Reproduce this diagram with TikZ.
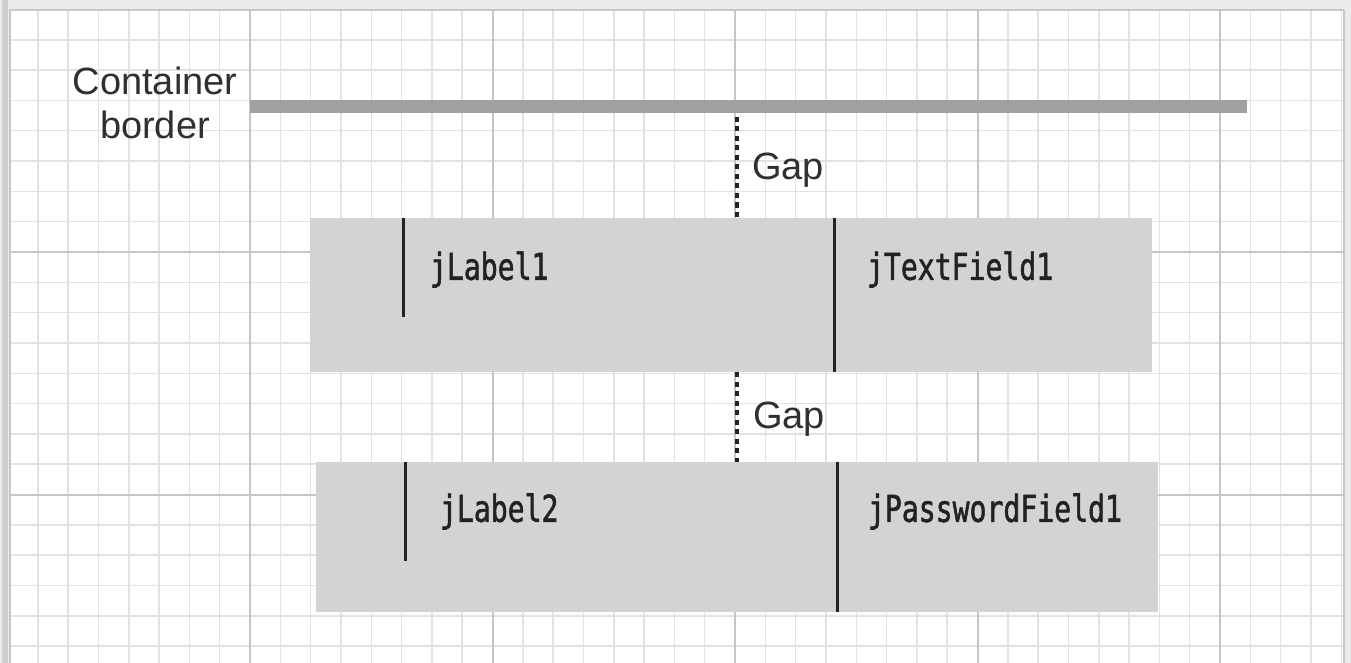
\documentclass[tikz,border=0pt]{standalone}
\usepackage{fontspec}
\setmainfont{Liberation Sans}
\newfontfamily\gbmono[FakeStretch=0.76,FakeBold=1.4]{DejaVu Sans Mono}
\usetikzlibrary{positioning}
\definecolor{GbPaper}{RGB}{234,235,236}
\definecolor{GbEdge}{RGB}{204,206,208}
\definecolor{GbMinor}{RGB}{224,226,228}
\definecolor{GbMajor}{RGB}{196,198,200}
\definecolor{GbBar}{RGB}{158,160,162}
\definecolor{GbFill}{RGB}{209,211,212}
\definecolor{GbInk}{RGB}{34,34,36}
\definecolor{GbText}{RGB}{48,48,50}
\tikzset{
  gb/row/.style={
    rectangle,
    fill=GbFill,
    inner sep=0pt,
    minimum width=842pt
  },
  gb/bar/.style={
    rectangle,
    fill=GbBar,
    inner sep=0pt,
    minimum width=997pt,
    minimum height=13pt
  },
  gb/edge/.style={draw=GbInk, line width=3pt},
  gb/gapline/.style={draw=GbInk, line width=4pt, dash pattern=on 5pt off 4.5pt},
  gb/sans/.style={font=\fontsize{38}{44}\selectfont, text=GbText, inner sep=0pt, align=center},
  gb/mono/.style={font=\gbmono\fontsize{37}{40}\selectfont, text=GbInk, inner sep=0pt, anchor=base west},
  gb/minor/.style={draw=GbMinor, line width=1.5pt},
  gb/major/.style={draw=GbMajor, line width=2pt}
}

\begin{document}
\begin{tikzpicture}[x=1pt,y=-1pt]
  \useasboundingbox (0,0) rectangle (1351,663);
  \fill[GbPaper] (0,0) rectangle (1351,663);
  \fill[GbEdge] (2,0) rectangle (8,663);
  \fill[white] (10,10) rectangle (1343,663);
  \begin{scope}
    \clip (10,10) rectangle (1343,663);
    \foreach \i in {0,...,44}{
      \draw[gb/minor] ({7.5+30.3125*\i},10) -- ++(0,653);
    }
    \foreach \i in {0,...,22}{
      \draw[gb/minor] (10,{9.5+30.3125*\i}) -- ++(1333,0);
    }
    \foreach \i in {0,...,5}{
      \draw[gb/major] ({7.5+242.5*\i},10) -- ++(0,653);
    }
    \foreach \i in {0,1,2}{
      \draw[gb/major] (10,{9.5+242.5*\i}) -- ++(1333,0);
    }
  \end{scope}
  \draw[gb/major] (1344,10) -- (10,10) -- (10,663);
  \draw[gb/major] (1344,10) -- (1344,663);

  \node[gb/bar] (border) at (748.5,106.5) {};
  \node[gb/sans] (cborder) at (155,103) {Container\\border};

  \node[gb/row, minimum height=154pt] (row1) at (731,295) {};
  \node[gb/row, minimum height=150pt] (row2) at (737,537) {};

  \draw[gb/edge] ([xshift=94pt]row1.north west) -- ++(0,99);
  \draw[gb/edge] ([xshift=525pt]row1.north west) -- ([xshift=525pt]row1.south west);
  \draw[gb/edge] ([xshift=90pt]row2.north west) -- ++(0,99);
  \draw[gb/edge] ([xshift=522pt]row2.north west) -- ([xshift=522pt]row2.south west);

  \node[gb/mono] (jl1) at ([xshift=120pt,yshift=-62pt]row1.north west) {jLabel1};
  \node[gb/mono] (jtf1) at ([xshift=557pt,yshift=-62pt]row1.north west) {jTextField1};
  \node[gb/mono] (jl2) at ([xshift=124pt,yshift=-60pt]row2.north west) {jLabel2};
  \node[gb/mono] (jpf1) at ([xshift=552pt,yshift=-60pt]row2.north west) {jPasswordField1};

  \coordinate (gtop) at (737,117);
  \draw[gb/gapline] (gtop) -- (gtop |- row1.north);
  \draw[gb/gapline] (gtop |- row1.south) -- (gtop |- row2.north);
  \node[gb/sans, anchor=base west] (gap1) at (752,180) {Gap};
  \node[gb/sans, anchor=base west] (gap2) at (753,428) {Gap};
\end{tikzpicture}
\end{document}
